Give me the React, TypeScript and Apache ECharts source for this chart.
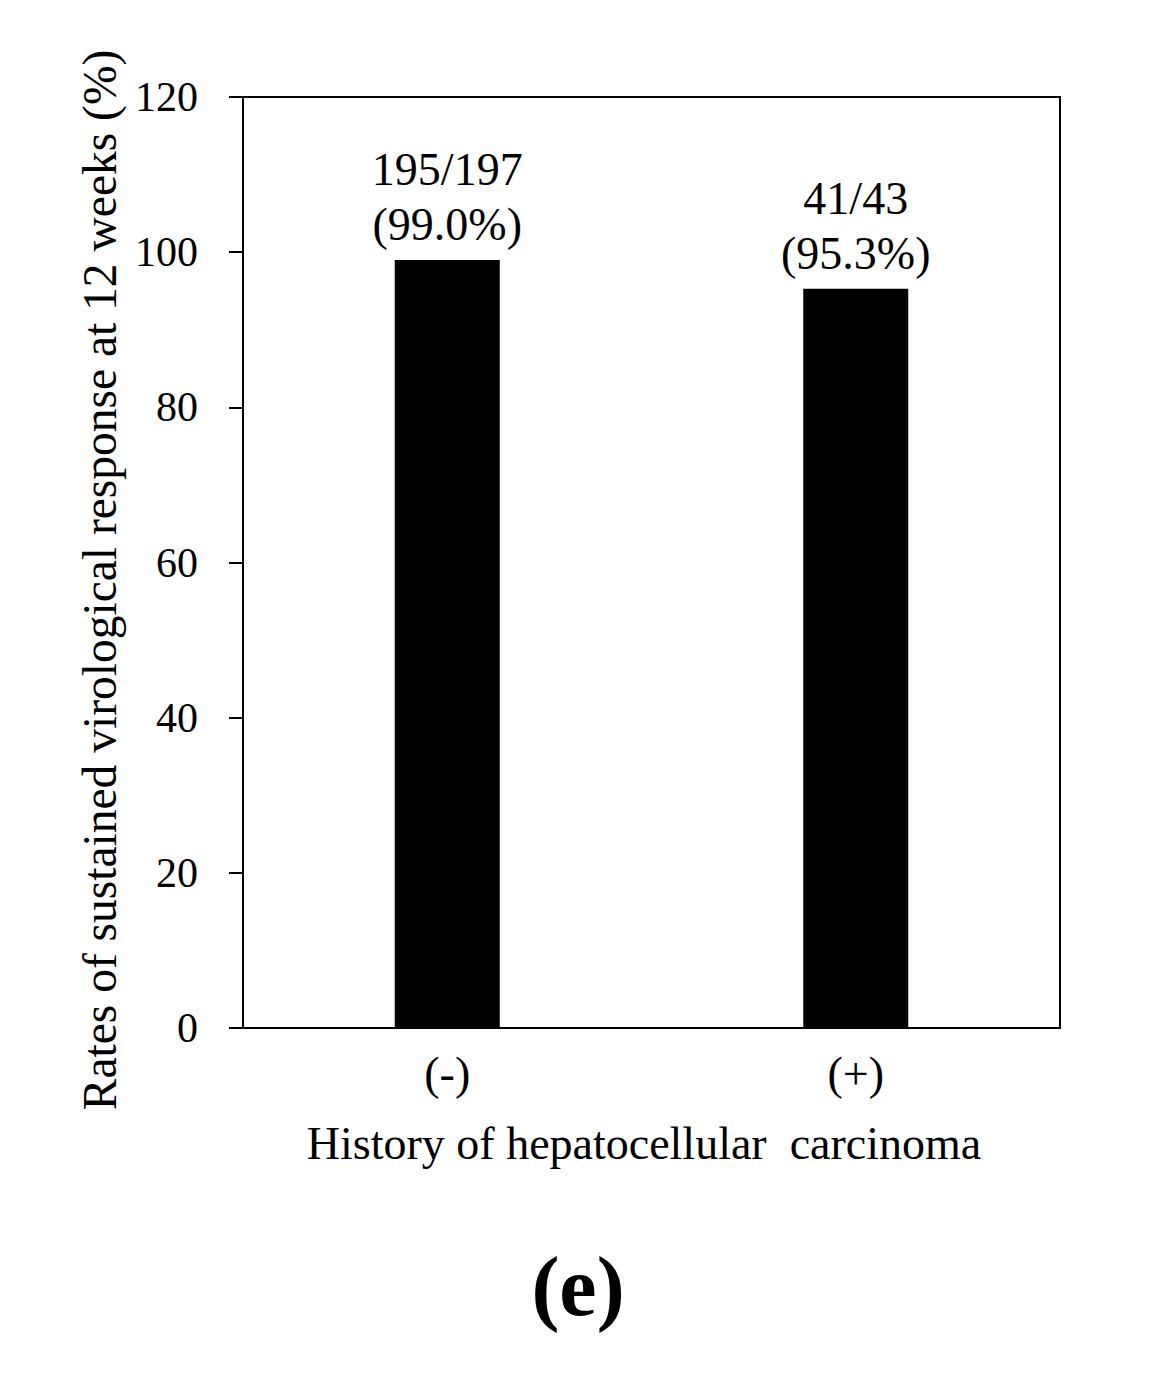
import React, { useEffect, useRef } from "react";
import * as echarts from "echarts";

const categories = ["(-)", "(+)"];
const values = [99.0, 95.3];
const counts = ["195/197", "41/43"];
const yTicks = { min: 0, max: 120, interval: 20 };
const yTitle = "Rates of sustained virological response at 12 weeks (%)";
const xTitle = "History of hepatocellular  carcinoma";
const panel = "(e)";

const FONT = "'Liberation Serif', 'Times New Roman', serif";

export default function App() {
  const ref = useRef<HTMLDivElement>(null);
  useEffect(() => {
    if (!ref.current) return;
    const chart = echarts.init(ref.current, undefined, { renderer: "svg" });
    chart.setOption({
      animation: false,
      backgroundColor: "#ffffff",
      grid: {
        left: 243,
        top: 97,
        right: 110,
        bottom: 356,
        show: true,
        borderColor: "#000",
        borderWidth: 2,
        backgroundColor: "transparent",
      },
      xAxis: {
        type: "category",
        data: categories,
        axisLine: { show: true, lineStyle: { color: "#000", width: 2 } },
        axisTick: { show: false },
        axisLabel: {
          color: "#000",
          fontFamily: FONT,
          fontSize: 46,
          margin: 22,
        },
        splitLine: { show: false },
      },
      yAxis: {
        type: "value",
        min: yTicks.min,
        max: yTicks.max,
        interval: yTicks.interval,
        axisLine: { show: true, lineStyle: { color: "#000", width: 2 } },
        axisTick: { show: true, inside: false, length: 14, lineStyle: { color: "#000", width: 2 } },
        axisLabel: {
          color: "#000",
          fontFamily: FONT,
          fontSize: 42,
          margin: 45,
        },
        splitLine: { show: false },
      },
      series: [
        {
          type: "bar",
          data: values,
          barWidth: 105,
          itemStyle: { color: "#000" },
          label: {
            show: true,
            position: "top",
            distance: 8,
            color: "#000",
            fontFamily: FONT,
            fontSize: 46,
            lineHeight: 55,
            formatter: (p: any) => `${counts[p.dataIndex]}\n(${values[p.dataIndex].toFixed(1)}%)`,
          },
        },
      ],
      graphic: [
        {
          type: "text",
          x: 100,
          y: 580,
          rotation: Math.PI / 2,
          style: {
            text: yTitle,
            font: `47.5px ${FONT}`,
            fill: "#000",
            textAlign: "center",
            textVerticalAlign: "middle",
          },
        },
        {
          type: "text",
          x: 644,
          y: 1143,
          style: {
            text: xTitle,
            font: `46px ${FONT}`,
            fill: "#000",
            textAlign: "center",
            textVerticalAlign: "middle",
          },
        },
        {
          type: "text",
          x: 578,
          y: 1286,
          style: {
            text: panel,
            font: `bold 84px ${FONT}`,
            fill: "#000",
            textAlign: "center",
            textVerticalAlign: "middle",
          },
        },
      ],
    });
    return () => chart.dispose();
  }, []);
  return (
    <div
      ref={ref}
      style={{ position: "fixed", left: 0, top: 0, width: 1170, height: 1384, background: "#fff" }}
    />
  );
}
